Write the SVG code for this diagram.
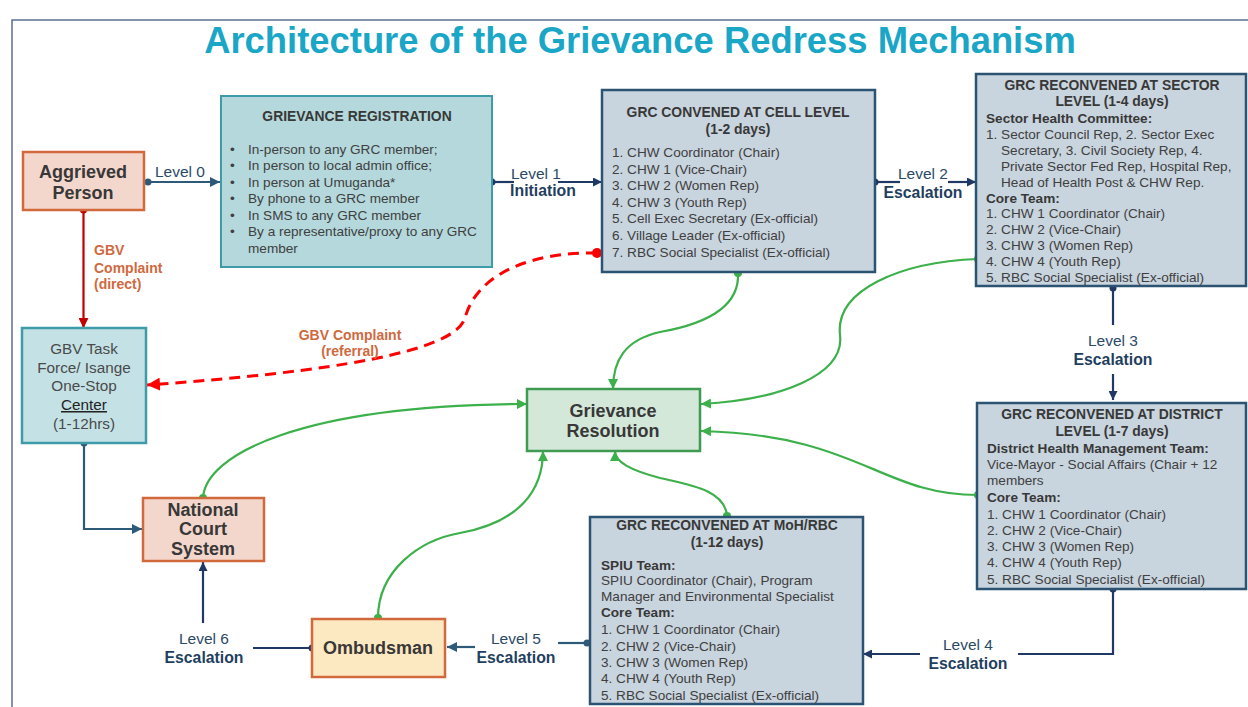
<svg xmlns="http://www.w3.org/2000/svg" width="1248" height="707" viewBox="0 0 1248 707">
<defs>
<style>
text{font-family:"Liberation Sans",Arial,sans-serif;}
.t{fill:#404040;font-size:13.6px;}
.tb{fill:#383838;font-size:13.6px;font-weight:bold;}
.hd{fill:#383838;font-size:13.9px;font-weight:bold;text-anchor:middle;}
.big{fill:#383838;font-size:18px;font-weight:bold;text-anchor:middle;}
.lv{fill:#2b4a68;font-size:15.5px;text-anchor:middle;}
.esc{fill:#1f3f60;font-size:15.8px;font-weight:bold;text-anchor:middle;}
.gbvl{fill:#d0693e;font-size:14px;font-weight:bold;}
.reg{fill:#b4d8dc;stroke:#3d9ca8;stroke-width:2;}
.grc{fill:#c8d4de;stroke:#2d5373;stroke-width:2.5;}
.person{fill:#f4d7cc;stroke:#d2693c;stroke-width:2.5;}
.omb{fill:#fde9c1;stroke:#d2693c;stroke-width:2.5;}
.gbv{fill:#c4e2e6;stroke:#3d9ca8;stroke-width:2.5;}
.res{fill:#d4e8da;stroke:#3f9a52;stroke-width:2.5;}
.navy{fill:none;stroke:#1f3864;stroke-width:2.2;}
.steel{fill:none;stroke:#2e5a7a;stroke-width:2.2;}
.green{fill:none;stroke:#3cb04a;stroke-width:2.2;}
</style>
<marker id="aNavy" viewBox="0 0 10 10" refX="10" refY="5" markerWidth="9" markerHeight="9" markerUnits="userSpaceOnUse" orient="auto"><path d="M0,0 L10,5 L0,10 z" fill="#1f3864"/></marker>
<marker id="aSteel" viewBox="0 0 10 10" refX="10" refY="5" markerWidth="10" markerHeight="10" markerUnits="userSpaceOnUse" orient="auto"><path d="M0,0 L10,5 L0,10 z" fill="#2e5a7a"/></marker>
<marker id="aGreen" viewBox="0 0 10 10" refX="10" refY="5" markerWidth="10" markerHeight="10" markerUnits="userSpaceOnUse" orient="auto"><path d="M0,0 L10,5 L0,10 z" fill="#3cb04a"/></marker>
<marker id="aRed" viewBox="0 0 10 10" refX="10" refY="5" markerWidth="10" markerHeight="10" markerUnits="userSpaceOnUse" orient="auto"><path d="M0,0 L10,5 L0,10 z" fill="#c00000"/></marker>
<marker id="aRedB" viewBox="0 0 10 10" refX="10" refY="5" markerWidth="13" markerHeight="13" markerUnits="userSpaceOnUse" orient="auto"><path d="M0,0 L10,5 L0,10 z" fill="#ff0000"/></marker>
</defs>
<rect x="0" y="0" width="1248" height="707" fill="#ffffff"/>
<path d="M12,707 L12,20 L1248,20" fill="none" stroke="#5b7093" stroke-width="1.5"/>
<text x="640" y="53" text-anchor="middle" font-size="36.4" font-weight="bold" fill="#1aa6c6">Architecture of the Grievance Redress Mechanism</text>

<g id="connectors">
<!-- Level 0 -->
<line x1="148" y1="182" x2="220" y2="182" class="steel" marker-end="url(#aSteel)"/>
<circle cx="148" cy="182" r="3.5" fill="#2e5a7a"/>
<text x="180" y="177" class="lv">Level 0</text>
<!-- Level 1 -->
<line x1="492" y1="182" x2="514" y2="182" class="navy"/>
<line x1="558" y1="182" x2="602" y2="182" class="navy" marker-end="url(#aNavy)"/>
<circle cx="492" cy="182" r="3.5" fill="#1f3864"/>
<text x="536" y="178.5" class="lv">Level 1</text>
<text x="543" y="195.5" class="esc">Initiation</text>
<!-- Level 2 -->
<line x1="875" y1="182" x2="900" y2="182" class="navy"/>
<line x1="948" y1="182" x2="976" y2="182" class="navy" marker-end="url(#aNavy)"/>
<circle cx="875" cy="182" r="3.5" fill="#1f3864"/>
<text x="923" y="178.5" class="lv">Level 2</text>
<text x="923" y="197.5" class="esc">Escalation</text>
<!-- Level 3 -->
<line x1="1113" y1="288" x2="1113" y2="325" class="navy"/>
<line x1="1113" y1="374" x2="1113" y2="400" class="navy" marker-end="url(#aNavy)"/>
<circle cx="1113" cy="288" r="3.5" fill="#1f3864"/>
<text x="1113" y="346" class="lv">Level 3</text>
<text x="1113" y="364.5" class="esc">Escalation</text>
<!-- Level 4 -->
<polyline points="1113,589 1113,654 1018,654" class="navy"/>
<line x1="920" y1="654" x2="863" y2="654" class="navy" marker-end="url(#aNavy)"/>
<circle cx="1113" cy="589" r="3.5" fill="#1f3864"/>
<text x="968" y="650" class="lv">Level 4</text>
<text x="968" y="668.5" class="esc">Escalation</text>
<!-- Level 5 -->
<line x1="587" y1="643" x2="558" y2="643" class="steel"/>
<line x1="475" y1="647" x2="447" y2="647" class="steel" marker-end="url(#aSteel)"/>
<circle cx="587" cy="643" r="3.5" fill="#2e5a7a"/>
<text x="516" y="644" class="lv">Level 5</text>
<text x="516" y="662.5" class="esc">Escalation</text>
<!-- Level 6 -->
<line x1="312" y1="648" x2="253" y2="648" class="navy"/>
<circle cx="312" cy="648" r="3.5" fill="#1f3864"/>
<line x1="203" y1="623" x2="203" y2="562" class="navy" marker-end="url(#aNavy)"/>
<text x="204" y="644" class="lv">Level 6</text>
<text x="204" y="662.5" class="esc">Escalation</text>
<!-- GBV direct -->
<line x1="83.5" y1="210" x2="83.5" y2="328" stroke="#c00000" stroke-width="2.2" marker-end="url(#aRed)"/>
<circle cx="83.5" cy="210" r="3.5" fill="#c00000"/>
<text x="94" y="255" class="gbvl">GBV</text>
<text x="94" y="272.5" class="gbvl">Complaint</text>
<text x="94" y="289" class="gbvl">(direct)</text>
<!-- GBV referral -->
<path d="M597,253 C520,252 475,280 465,318 C455,352 330,372 147,385" fill="none" stroke="#ff0000" stroke-width="3" stroke-dasharray="11 7" marker-end="url(#aRedB)"/>
<circle cx="597" cy="253" r="5" fill="#ff0000"/>
<text x="350" y="339.5" class="gbvl" text-anchor="middle">GBV Complaint</text>
<text x="350" y="356" class="gbvl" text-anchor="middle">(referral)</text>
<!-- GBV to court -->
<polyline points="84,443 84,529 142,529" class="steel" marker-end="url(#aSteel)"/>
<circle cx="84" cy="443" r="3.5" fill="#2e5a7a"/>
<!-- Green resolution links -->
<path d="M738,273 C740,310 700,325 660,332 C625,340 613,360 613,389" class="green" marker-end="url(#aGreen)"/>
<circle cx="738" cy="273" r="4" fill="#3cb04a"/>
<path d="M978,259 C900,262 835,290 840,335 C845,375 780,400 701,404" class="green" marker-end="url(#aGreen)"/>
<circle cx="978" cy="259" r="4" fill="#3cb04a"/>
<path d="M978,495 C880,495 860,435 701,431" class="green" marker-end="url(#aGreen)"/>
<circle cx="978" cy="495" r="4" fill="#3cb04a"/>
<path d="M727,516 C725,490 690,485 660,478 C630,470 615,462 615,451" class="green" marker-end="url(#aGreen)"/>
<circle cx="727" cy="516" r="4" fill="#3cb04a"/>
<path d="M378,618 C378,570 420,540 460,533 C520,522 543,490 543,451" class="green" marker-end="url(#aGreen)"/>
<circle cx="378" cy="618" r="4" fill="#3cb04a"/>
<path d="M203,498 C205,455 300,405 527,404" class="green" marker-end="url(#aGreen)"/>
<circle cx="203" cy="498" r="4" fill="#3cb04a"/>
</g>

<g id="aggrieved">
<rect x="23" y="152" width="121" height="58" class="person"/>
<text x="83" y="177.5" class="big">Aggrieved</text>
<text x="83" y="199" class="big">Person</text>
</g>

<g id="registration">
<rect x="221" y="96" width="271" height="171" class="reg"/>
<text x="357" y="121" class="hd" font-size="13.2">GRIEVANCE REGISTRATION</text>
<g class="t" font-size="14.1">
<text x="230" y="153.5">•</text><text x="248" y="153.5">In-person to any GRC member;</text>
<text x="230" y="170">•</text><text x="248" y="170">In person to local admin office;</text>
<text x="230" y="186.5">•</text><text x="248" y="186.5">In person at Umuganda*</text>
<text x="230" y="203">•</text><text x="248" y="203">By phone to a GRC member</text>
<text x="230" y="219.5">•</text><text x="248" y="219.5">In SMS to any GRC member</text>
<text x="230" y="236">•</text><text x="248" y="236">By a representative/proxy to any GRC</text>
<text x="248" y="252.5">member</text>
</g>
</g>

<g id="cell">
<rect x="602" y="90" width="273" height="182" class="grc"/>
<text x="738" y="117" class="hd">GRC CONVENED AT CELL LEVEL</text>
<text x="738" y="134" class="hd">(1-2 days)</text>
<text x="612" y="157" class="t">1. CHW Coordinator (Chair)</text>
<text x="612" y="173.6" class="t">2. CHW 1 (Vice-Chair)</text>
<text x="612" y="190.2" class="t">3. CHW 2 (Women Rep)</text>
<text x="612" y="206.8" class="t">4. CHW 3 (Youth Rep)</text>
<text x="612" y="223.4" class="t">5. Cell Exec Secretary (Ex-official)</text>
<text x="612" y="240" class="t">6. Village Leader (Ex-official)</text>
<text x="612" y="256.6" class="t">7. RBC Social Specialist (Ex-official)</text>
</g>

<g id="sector">
<rect x="976" y="74" width="270" height="212" class="grc"/>
<text x="1112" y="90" class="hd">GRC RECONVENED AT SECTOR</text>
<text x="1112" y="106" class="hd">LEVEL (1-4 days)</text>
<text x="986" y="122.8" class="tb">Sector Health Committee:</text>
<text x="986" y="138.7" class="t">1. Sector Council Rep, 2. Sector Exec</text>
<text x="1001" y="154.6" class="t">Secretary, 3. Civil Society Rep, 4.</text>
<text x="1001" y="170.6" class="t">Private Sector Fed Rep, Hospital Rep,</text>
<text x="1001" y="186.5" class="t">Head of Health Post &amp; CHW Rep.</text>
<text x="986" y="202.5" class="tb">Core Team:</text>
<text x="986" y="218.4" class="t">1. CHW 1 Coordinator (Chair)</text>
<text x="986" y="234.3" class="t">2. CHW 2 (Vice-Chair)</text>
<text x="986" y="250.3" class="t">3. CHW 3 (Women Rep)</text>
<text x="986" y="266.2" class="t">4. CHW 4 (Youth Rep)</text>
<text x="986" y="282.2" class="t">5. RBC Social Specialist (Ex-official)</text>
</g>

<g id="district">
<rect x="977" y="403" width="269" height="186" class="grc"/>
<text x="1112" y="418.5" class="hd">GRC RECONVENED AT DISTRICT</text>
<text x="1112" y="436" class="hd">LEVEL (1-7 days)</text>
<text x="987" y="452.8" class="tb">District Health Management Team:</text>
<text x="987" y="468.5" class="t">Vice-Mayor - Social Affairs (Chair + 12</text>
<text x="987" y="485" class="t">members</text>
<text x="987" y="502" class="tb">Core Team:</text>
<text x="987" y="518.5" class="t">1. CHW 1 Coordinator (Chair)</text>
<text x="987" y="534.5" class="t">2. CHW 2 (Vice-Chair)</text>
<text x="987" y="550.5" class="t">3. CHW 3 (Women Rep)</text>
<text x="987" y="567" class="t">4. CHW 4 (Youth Rep)</text>
<text x="987" y="583.8" class="t">5. RBC Social Specialist (Ex-official)</text>
</g>

<g id="moh">
<rect x="590" y="517" width="273" height="187" class="grc"/>
<text x="727" y="530" class="hd">GRC RECONVENED AT MoH/RBC</text>
<text x="727" y="547" class="hd">(1-12 days)</text>
<text x="601" y="569.5" class="tb">SPIU Team:</text>
<text x="601" y="585" class="t">SPIU Coordinator (Chair), Program</text>
<text x="601" y="600.5" class="t">Manager and Environmental Specialist</text>
<text x="601" y="617" class="tb">Core Team:</text>
<text x="601" y="634" class="t">1. CHW 1 Coordinator (Chair)</text>
<text x="601" y="650.5" class="t">2. CHW 2 (Vice-Chair)</text>
<text x="601" y="666.5" class="t">3. CHW 3 (Women Rep)</text>
<text x="601" y="683" class="t">4. CHW 4 (Youth Rep)</text>
<text x="601" y="699.5" class="t">5. RBC Social Specialist (Ex-official)</text>
</g>

<g id="gbv">
<rect x="22" y="328" width="124" height="115" class="gbv"/>
<g fill="#4a4a4a" font-size="15.3" text-anchor="middle">
<text x="84" y="353.5">GBV Task</text>
<text x="84" y="373">Force/ Isange</text>
<text x="84" y="391">One-Stop</text>
<text x="84" y="410" text-decoration="underline" fill="#222">Center</text>
<text x="84" y="428.5">(1-12hrs)</text>
</g>
</g>

<g id="resolution">
<rect x="527" y="389" width="173" height="62" class="res"/>
<text x="613" y="416.5" class="big">Grievance</text>
<text x="613" y="437" class="big">Resolution</text>
</g>

<g id="court">
<rect x="143" y="498" width="121" height="63" class="person"/>
<text x="203" y="516" class="big">National</text>
<text x="203" y="535" class="big">Court</text>
<text x="203" y="555" class="big">System</text>
</g>

<g id="ombudsman">
<rect x="312" y="619" width="133" height="58" class="omb"/>
<text x="378" y="654" class="big">Ombudsman</text>
</g>
</svg>
